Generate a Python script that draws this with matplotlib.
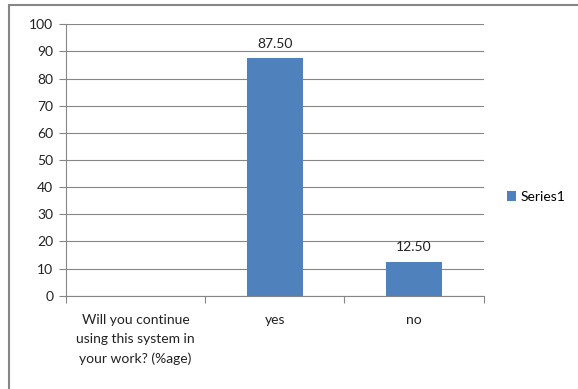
import matplotlib.pyplot as plt
import numpy as np
from matplotlib.patches import Rectangle

# Daten
categories = ['Will you continue\nusing this system in\nyour work? (%age)', 'yes', 'no']
values = [np.nan, 87.50, 12.50]
series_name = 'Series1'
yticks = list(range(0, 101, 10))

plt.rcParams['font.family'] = ['Lato', 'DejaVu Sans']
grey = '#868686'
blue = '#4F81BD'
fs = 10

fig = plt.figure(figsize=(5.78, 3.89), dpi=100)
ax = fig.add_axes([0.114, 0.240, 0.723, 0.6975])

x = np.arange(len(categories))
bars = ax.bar(x, values, width=0.4, color=blue, label=series_name, zorder=3)

# Datenbeschriftungen
for xi, v in zip(x, values):
    if not np.isnan(v):
        ax.annotate(f'{v:.2f}', (xi, v), xytext=(0, 6), textcoords='offset points',
                    ha='center', va='bottom', fontsize=fs, color='#222222')

ax.set_xlim(-0.5, len(categories) - 0.5)
ax.set_ylim(0, 100)
ax.set_yticks(yticks)
ax.tick_params(axis='y', labelsize=fs, length=5, color=grey, width=0.8,
               labelcolor='#222222', pad=4)
ax.yaxis.grid(True, color=grey, linewidth=0.8, zorder=0)

# Kategorien: Striche an den Grenzen, Beschriftung in der Mitte
ax.set_xticks(np.arange(-0.5, len(categories), 1.0))
ax.set_xticklabels([])
ax.set_xticks(x, minor=True)
ax.set_xticklabels(categories, minor=True, fontsize=fs, color='#222222',
                   linespacing=1.72, va='top')
ax.tick_params(axis='x', which='major', length=5, color=grey, width=0.8)
ax.tick_params(axis='x', which='minor', length=0, pad=13)

for side in ['top', 'right']:
    ax.spines[side].set_visible(False)
for side in ['left', 'bottom']:
    ax.spines[side].set_color(grey)
    ax.spines[side].set_linewidth(0.8)

# Legende
fig.legend(handles=[bars], labels=[series_name], loc='center left',
           bbox_to_anchor=(0.877, 0.494), frameon=False, fontsize=fs,
           borderpad=0, borderaxespad=0,
           handlelength=0.65, handleheight=0.65, handletextpad=0.35)

# Rahmen um das Diagramm
fig.patches.append(Rectangle((9 / 578, -0.1), 1.2, 1 - 5.5 / 389 + 0.1,
                             transform=fig.transFigure, fill=False,
                             edgecolor=grey, linewidth=1.5))

fig.savefig('out.png', dpi=100)
